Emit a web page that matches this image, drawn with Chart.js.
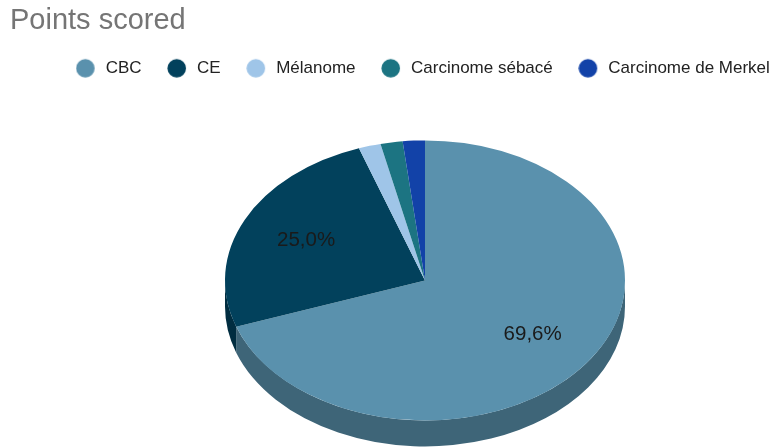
<!DOCTYPE html>
<html>
<head>
<meta charset="utf-8">
<script src="https://cdn.jsdelivr.net/npm/chart.js@4"></script>
<style>
  html, body { margin: 0; padding: 0; background: #fff; overflow: hidden; }
  /* the canvas is wider/taller than the window so the pie sits right of centre */
  #wrap { width: 840px; height: 474px; position: relative; }
</style>
</head>
<body>
<div id="wrap"><canvas id="pointsChart"></canvas></div>
<script>
var categories = ['CBC', 'CE', 'Mélanome', 'Carcinome sébacé', 'Carcinome de Merkel'];
var points = [39, 14, 1, 1, 1];
var sliceColors = ['#5a91ad', '#02415c', '#9fc5e8', '#1c7482', '#1242a8'];
var rimColors = ['#3e6578', '#012d40', '#6f8aa2', '#14515b', '#0c2e76'];

var FONT = '"Liberation Sans", Arial, sans-serif';

function percentText(value, total) {
    return (value / total * 100).toFixed(1).replace('.', ',') + '%';
}

// round legend marker, drawn a bit left of centre to leave room before the text
function legendDot(color) {
    var c = document.createElement('canvas');
    c.width = 26;
    c.height = 21;
    var g = c.getContext('2d');
    g.fillStyle = color;
    g.beginPath();
    g.arc(9.7, 10.5, 9.3, 0, Math.PI * 2);
    g.fill();
    return c;
}
var legendDots = sliceColors.map(legendDot);

// squashes the pie into an ellipse and adds a rim underneath so it looks 3D
var tiltedPie = {
    id: 'tiltedPie',
    beforeDatasetsDraw: function(chart, args, opts) {
        var ctx = chart.ctx;
        var arcs = chart.getDatasetMeta(0).data;
        var cx = arcs[0].x, cy = arcs[0].y;
        var r = arcs[0].outerRadius, ry = r * opts.tilt;
        // only the front half of the rim (0..PI) can be seen
        arcs.forEach(function(arc, i) {
            var a1 = Math.max(arc.startAngle, 0);
            var a2 = Math.min(arc.endAngle, Math.PI);
            if (a2 <= a1) return;
            ctx.beginPath();
            ctx.ellipse(cx, cy, r, ry, 0, a1, a2);
            ctx.ellipse(cx, cy + opts.depth, r, ry, 0, a2, a1, true);
            ctx.closePath();
            ctx.fillStyle = rimColors[i];
            ctx.fill();
        });
        ctx.save();
        ctx.translate(cx, cy);
        ctx.scale(1, opts.tilt);
        ctx.translate(-cx, -cy);
    },
    afterDatasetsDraw: function(chart, args, opts) {
        var ctx = chart.ctx;
        ctx.restore();
        var arcs = chart.getDatasetMeta(0).data;
        var total = points.reduce(function(a, b) { return a + b; }, 0);
        ctx.save();
        ctx.font = '20.5px ' + FONT;
        ctx.fillStyle = '#1a1a1a';
        ctx.textAlign = 'center';
        ctx.textBaseline = 'middle';
        arcs.forEach(function(arc, i) {
            if (points[i] / total < 0.05) return;
            var mid = (arc.startAngle + arc.endAngle) / 2;
            var d = arc.outerRadius * opts.labelRadius;
            ctx.fillText(percentText(points[i], total),
                arc.x + Math.cos(mid) * d,
                arc.y + Math.sin(mid) * d * opts.tilt);
        });
        ctx.restore();
    }
};

var baseLabels = (Chart.overrides.pie || Chart.overrides.doughnut).plugins.legend.labels.generateLabels;

var ctx = document.getElementById('pointsChart').getContext('2d');
var pointsChart = new Chart(ctx, {
    type: 'pie',
    data: {
        labels: categories,
        datasets: [{
            data: points,
            backgroundColor: sliceColors,
            borderWidth: 0
        }]
    },
    options: {
        responsive: true,
        maintainAspectRatio: false,
        animation: false,
        radius: 200,
        layout: {
            padding: { left: 10, right: 0, top: 0, bottom: 0 }
        },
        plugins: {
            title: {
                display: true,
                text: 'Points scored',
                align: 'start',
                color: '#757575',
                font: { family: FONT, size: 29, weight: 'normal' },
                padding: { top: 4, bottom: -9 }
            },
            legend: {
                position: 'top',
                labels: {
                    usePointStyle: true,
                    boxWidth: 17,
                    boxHeight: 17,
                    padding: 30,
                    color: '#222',
                    font: { family: FONT, size: 17 },
                    generateLabels: function(chart) {
                        var items = baseLabels(chart);
                        items.forEach(function(item, i) { item.pointStyle = legendDots[i]; });
                        return items;
                    }
                }
            },
            tooltip: { enabled: false },
            tiltedPie: { tilt: 0.7, depth: 26, labelRadius: 0.66 }
        }
    },
    plugins: [tiltedPie]
});
</script>
</body>
</html>
